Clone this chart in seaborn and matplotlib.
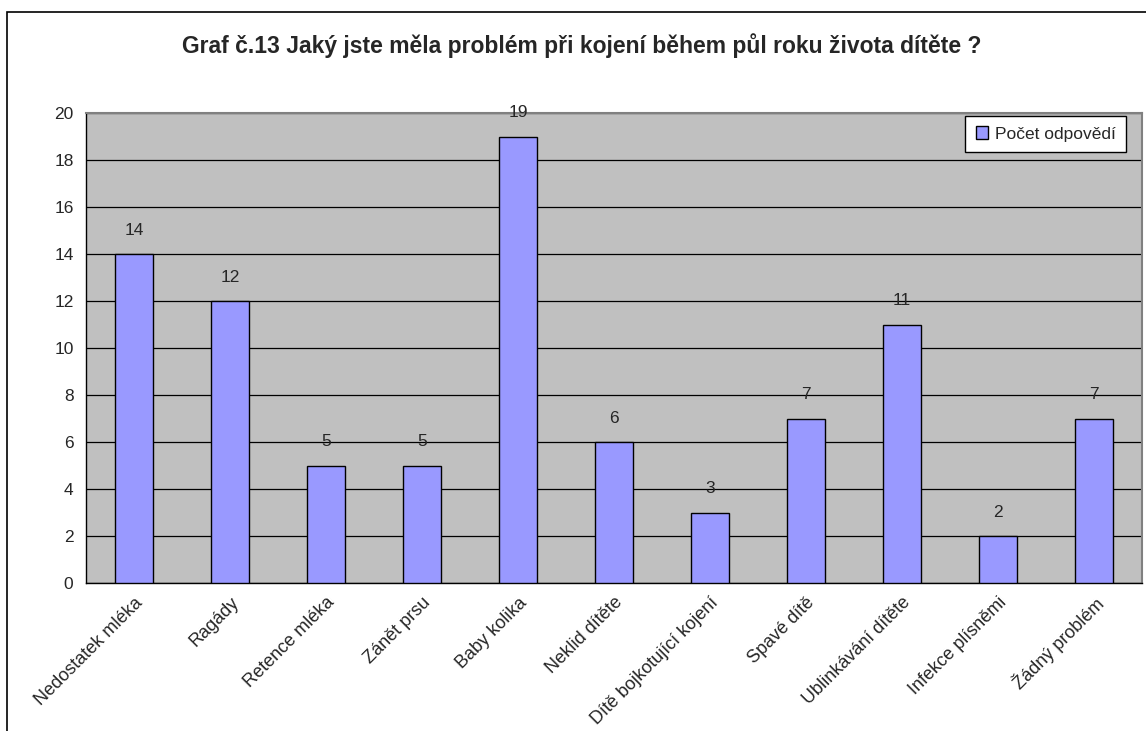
import numpy as np
import seaborn as sns
import matplotlib.pyplot as plt
from matplotlib.patches import Rectangle

categories = ['Nedostatek mléka', 'Ragády', 'Retence mléka', 'Zánět prsu', 'Baby kolika',
              'Neklid dítěte', 'Dítě bojkotující kojení', 'Spavé dítě', 'Ublinkávání dítěte',
              'Infekce plísněmi', 'Žádný problém']
counts = [14, 12, 5, 5, 19, 6, 3, 7, 11, 2, 7]
series_name = 'Počet odpovědí'
title = 'Graf č.13 Jaký jste měla problém při kojení během půl roku života dítěte ?'

sns.set_style('white')
plt.rcParams['font.family'] = ['Liberation Sans', 'DejaVu Sans']

fs = 12.5

fig = plt.figure(figsize=(11.46, 7.31), dpi=100)
ax = fig.add_axes([86 / 1146, 1 - 583 / 731, (1142 - 86) / 1146, (583 - 113) / 731])

# chart area border
fig.patches.append(Rectangle((7 / 1146, -0.1), 1.2, 1 - 12 / 731 + 0.1, transform=fig.transFigure,
                             fill=False, edgecolor='black', linewidth=1.2))

ax.set_facecolor('#C0C0C0')
sns.barplot(x=categories, y=counts, color='#9999FF', width=0.4, edgecolor='black',
            linewidth=1, saturation=1, label=series_name, ax=ax, zorder=3)

for i, v in enumerate(counts):
    ax.annotate(str(v), (i, v), xytext=(0, 17), textcoords='offset points',
                ha='center', va='center', fontsize=fs)

ax.set_ylim(0, 20)
ax.set_xlim(-0.5, len(categories) - 0.5)
ax.set_yticks(range(0, 21, 2))
ax.yaxis.grid(True, color='black', linewidth=0.9, zorder=0)
ax.set_axisbelow(True)

ax.set_xticks(np.arange(len(categories)))
ax.set_xticklabels(categories, rotation=45, ha='right', rotation_mode='anchor', fontsize=13)
ax.set_xticks(np.arange(-0.5, len(categories), 1), minor=True)
ax.tick_params(axis='x', which='major', length=0, pad=8)
ax.tick_params(axis='x', which='minor', length=5, width=1, color='black', direction='out')
ax.tick_params(axis='y', length=5, width=1, color='black', direction='out', labelsize=fs, pad=4)

for s in ['top', 'right']:
    ax.spines[s].set_color('#808080')
    ax.spines[s].set_linewidth(1.5)
for s in ['left', 'bottom']:
    ax.spines[s].set_color('black')
    ax.spines[s].set_linewidth(1)

ax.set_xlabel('')
ax.set_ylabel('')

leg = ax.legend(loc='upper right', bbox_to_anchor=(1126 / 1146, 1 - 116 / 731),
                bbox_transform=fig.transFigure, borderaxespad=0, fontsize=fs, frameon=True,
                fancybox=False, edgecolor='black', framealpha=1, handlelength=0.7,
                handleheight=0.7, handletextpad=0.4, borderpad=0.6)
leg.get_frame().set_linewidth(1)

fig.text(582 / 1146, 1 - 46 / 731, title, ha='center', va='center', fontsize=16.5, fontweight='bold')

fig.savefig('out.png', dpi=100)
